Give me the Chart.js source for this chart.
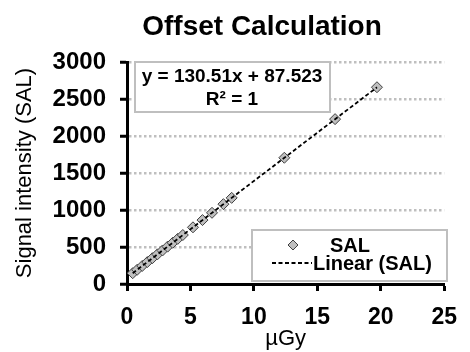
<!DOCTYPE html>
<html lang="en">
<head>
  <meta charset="UTF-8">
  <title>Offset Calculation</title>
  <script src="https://cdn.jsdelivr.net/npm/chart.js"></script>
  <style>
    * { margin: 0; padding: 0; box-sizing: border-box; }
    body { background: #fff; }
    .chart-wrap { width: 470px; height: 352px; position: relative; }
  </style>
</head>
<body>
  <div class="chart-wrap">
    <canvas id="offset-chart" width="470" height="352"></canvas>
  </div>

  <script>
    // dose (µGy) and signal (SAL)
    const doseValues = [0.45, 0.8, 1.2, 1.6, 2.0, 2.4, 2.8, 3.2, 3.6, 4.0, 4.4, 5.2, 5.95, 6.7, 7.6, 8.25, 12.4, 16.4, 19.7];
    const signalValues = [146, 192, 244, 296, 349, 401, 453, 505, 557, 610, 662, 766, 864, 962, 1079, 1164, 1706, 2228, 2659];
    // trendline end points: y = 130.51x + 87.523
    const trendX = [0.45, 19.7];
    const trendY = [146, 2658];
    const equationLines = ['y = 130.51x + 87.523', 'R² = 1'];
    const legendLabels = ['SAL', 'Linear (SAL)'];

    const FONT = 'Arial, "Liberation Sans", sans-serif';

    const pointData = doseValues.map((x, i) => ({ x, y: signalValues[i] }));
    const trendData = trendX.map((x, i) => ({ x, y: trendY[i] }));

    // title, equation box and legend box, drawn like Excel does it
    const overlay = {
      id: 'overlay',
      afterDraw(chart) {
        const ctx = chart.ctx;
        ctx.save();
        ctx.fillStyle = '#000';
        ctx.textAlign = 'center';
        ctx.textBaseline = 'alphabetic';
        ctx.font = 'bold 28px ' + FONT;
        ctx.fillText('Offset Calculation', 262, 35);

        // equation box
        ctx.fillStyle = '#fff';
        ctx.fillRect(135, 62, 195, 50);
        ctx.strokeStyle = '#bfbfbf';
        ctx.lineWidth = 2;
        ctx.strokeRect(135, 62, 195, 50);
        ctx.fillStyle = '#000';
        ctx.font = 'bold 19px ' + FONT;
        ctx.fillText(equationLines[0], 232, 82);
        ctx.fillText(equationLines[1], 232, 105);

        // legend box
        ctx.fillStyle = '#fff';
        ctx.fillRect(252, 230, 195, 51);
        ctx.strokeRect(252, 230, 195, 51);
        ctx.fillStyle = '#bfbfbf';
        ctx.strokeStyle = '#404040';
        ctx.lineWidth = 1;
        ctx.beginPath();
        ctx.moveTo(293, 240); ctx.lineTo(298, 245); ctx.lineTo(293, 250); ctx.lineTo(288, 245);
        ctx.closePath();
        ctx.fill(); ctx.stroke();
        ctx.strokeStyle = '#000';
        ctx.lineWidth = 2;
        ctx.setLineDash([4, 2.5]);
        ctx.beginPath();
        ctx.moveTo(272, 263); ctx.lineTo(312, 263);
        ctx.stroke();
        ctx.setLineDash([]);
        ctx.fillStyle = '#000';
        ctx.textAlign = 'left';
        ctx.font = 'bold 20px ' + FONT;
        ctx.fillText(legendLabels[0], 330, 252);
        ctx.fillText(legendLabels[1], 313, 270);
        ctx.restore();
      }
    };

    new Chart(document.getElementById('offset-chart'), {
      type: 'scatter',
      data: {
        datasets: [
          {
            label: legendLabels[1],
            data: trendData,
            showLine: true,
            borderColor: '#000',
            borderWidth: 1.8,
            borderDash: [4, 2.5],
            pointRadius: 0,
            order: 0,
          },
          {
            label: legendLabels[0],
            data: pointData,
            pointStyle: 'rectRot',
            pointRadius: 5.5,
            backgroundColor: '#bfbfbf',
            borderColor: '#404040',
            borderWidth: 1,
            order: 1,
          },
        ],
      },
      options: {
        responsive: false,
        animation: false,
        layout: { padding: { top: 62, right: 15, left: 12, bottom: 0 } },
        plugins: {
          legend: { display: false },
          tooltip: { enabled: false },
        },
        scales: {
          x: {
            type: 'linear',
            min: 0,
            max: 25,
            ticks: { stepSize: 5, color: '#000', padding: 13, font: { family: FONT, size: 23, weight: 'bold' } },
            grid: { drawOnChartArea: false, tickLength: 7, tickColor: '#000', tickWidth: 3 },
            border: { color: '#000', width: 3 },
            title: { display: true, text: 'µGy', color: '#000', padding: 0, font: { family: FONT, size: 22 } },
            afterFit(scale) { scale.height = 68; },
          },
          y: {
            min: 0,
            max: 3000,
            ticks: { stepSize: 500, color: '#000', padding: 14, callback: (v) => String(v), font: { family: FONT, size: 24, weight: 'bold' } },
            grid: { color: '#bfbfbf', lineWidth: 2.5, tickLength: 7, tickColor: '#000', tickWidth: 3, tickBorderDash: [] },
            border: { color: '#000', width: 3, dash: [2.5, 2.5] },
            title: { display: true, text: 'Signal intensity (SAL)', color: '#000', padding: 0, font: { family: FONT, size: 22 } },
            afterFit(scale) { scale.width = 115; },
          },
        },
      },
      plugins: [overlay],
    });
  </script>
</body>
</html>
